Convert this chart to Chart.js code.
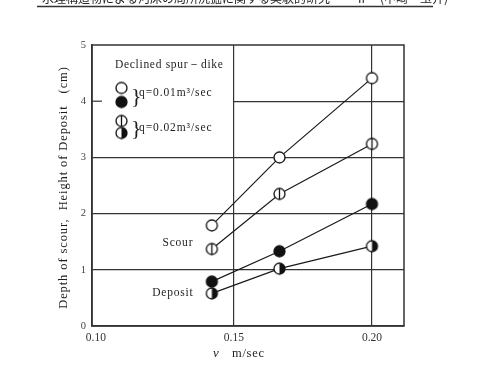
<!DOCTYPE html>
<html>
<head>
<meta charset="utf-8">
<script src="https://cdn.jsdelivr.net/npm/chart.js@4"></script>
<style>
  body { margin: 0; background: #fff; }
  canvas { display: block; }
</style>
</head>
<body>
<canvas id="chart" width="477" height="367"></canvas>
<script>
// ---------- Data ----------
const velocity = [0.142, 0.1665, 0.200];            // v  m/sec
const scourQ1 = [1.79, 3.00, 4.41];                // q=0.01, scour (open)
const scourQ2 = [1.37, 2.35, 3.24];                // q=0.02, scour (barred)
const depositQ1 = [0.79, 1.33, 2.17];              // q=0.01, deposit (filled)
const depositQ2 = [0.58, 1.02, 1.42];              // q=0.02, deposit (half)
const xTicks = [0.10, 0.15, 0.20];
const yTicks = [0, 1, 2, 3, 4, 5];

const SERIF = "'Liberation Serif', 'DejaVu Serif', serif";
const INK = "#1e1e1e";

// ---------- Symbols ----------
function makeSym(kind) {
  const c = document.createElement("canvas");
  c.width = 15; c.height = 15;
  const g = c.getContext("2d");
  const cx = 7.5, cy = 7.5, r = 5.5;
  g.beginPath(); g.arc(cx, cy, r, 0, Math.PI * 2);
  g.fillStyle = kind === "filled" ? "#111" : "#fff";
  g.fill();
  if (kind === "half") {
    g.beginPath(); g.moveTo(cx, cy - r);
    g.arc(cx, cy, r, -Math.PI / 2, Math.PI / 2);
    g.closePath(); g.fillStyle = "#111"; g.fill();
  }
  g.lineWidth = 1.3; g.strokeStyle = "#111";
  g.beginPath(); g.arc(cx, cy, r, 0, Math.PI * 2); g.stroke();
  if (kind === "bar") {
    g.beginPath(); g.moveTo(cx, cy - r); g.lineTo(cx, cy + r); g.stroke();
  }
  return c;
}
const SYM = {
  open: makeSym("open"),
  filled: makeSym("filled"),
  bar: makeSym("bar"),
  half: makeSym("half"),
};

function series(vals, sym) {
  return {
    data: vals.map((v, i) => ({ x: velocity[i], y: v })),
    borderColor: "#1a1a1a",
    borderWidth: 1.2,
    pointStyle: sym,
    pointRadius: 6,
    fill: false,
    tension: 0,
  };
}

// ---------- Decorations ----------
const decor = {
  id: "decor",
  beforeDatasetsDraw(chart) {
    const { ctx, chartArea: a, scales: { x, y } } = chart;
    ctx.save();
    // legend box (white area, upper-left cell)
    const bx = x.getPixelForValue(0.15), by = y.getPixelForValue(3);
    ctx.fillStyle = "#fff";
    ctx.fillRect(a.left + 1, a.top + 1, bx - a.left - 2, by - a.top - 2);
    // small inner tick at y=4
    const y4 = y.getPixelForValue(4);
    ctx.strokeStyle = "#333"; ctx.lineWidth = 1.2;
    ctx.beginPath(); ctx.moveTo(a.left, y4); ctx.lineTo(a.left + 10, y4); ctx.stroke();
    // frame
    ctx.strokeStyle = "#333"; ctx.lineWidth = 1.5;
    ctx.strokeRect(a.left, a.top, a.right - a.left, a.bottom - a.top);

    // legend contents
    ctx.fillStyle = INK;
    ctx.textBaseline = "alphabetic";
    ctx.textAlign = "left";
    ctx.font = "11.5px " + SERIF;
    ctx.letterSpacing = "0.7px";
    ctx.fillText("Declined spur\uFF0Ddike", a.left + 23, a.top + 23);
    const sx = a.left + 29.5;
    const put = (s, yy) => ctx.drawImage(s, sx - 7.5, yy - 7.5);
    put(SYM.open, a.top + 43);
    put(SYM.filled, a.top + 57);
    put(SYM.bar, a.top + 76);
    put(SYM.half, a.top + 88);
    ctx.font = "22px " + SERIF;
    ctx.letterSpacing = "0px";
    ctx.fillText("}", a.left + 39, a.top + 58);
    ctx.fillText("}", a.left + 39, a.top + 90);
    ctx.font = "11.5px " + SERIF;
    ctx.letterSpacing = "0.9px";
    ctx.fillText("q=0.01m\u00B3/sec", a.left + 47, a.top + 51);
    ctx.fillText("q=0.02m\u00B3/sec", a.left + 47, a.top + 86);

    // Scour / Deposit labels
    ctx.textAlign = "center";
    ctx.letterSpacing = "0.8px";
    ctx.fillText("Scour", x.getPixelForValue(0.1297), y.getPixelForValue(1.42));
    ctx.fillText("Deposit", x.getPixelForValue(0.1279), y.getPixelForValue(0.53));
    ctx.restore();
  },
  afterDraw(chart) {
    const { ctx, chartArea: a } = chart;
    ctx.save();
    ctx.fillStyle = INK;
    // y axis title
    ctx.translate(67, (a.top + a.bottom) / 2 + 2);
    ctx.rotate(-Math.PI / 2);
    ctx.textAlign = "center";
    ctx.font = "12.5px " + SERIF;
    ctx.letterSpacing = "0.9px";
    ctx.fillText("Depth of scour,  Height of Deposit   (cm)", 0, 0);
    ctx.restore();

    // x axis title
    ctx.save();
    ctx.fillStyle = INK;
    ctx.font = "italic 13px " + SERIF;
    ctx.fillText("v", 213, 357);
    ctx.font = "12.5px " + SERIF;
    ctx.letterSpacing = "0.7px";
    ctx.fillText("m/sec", 232, 357);
    ctx.restore();

    // running header (cut off at top of page)
    ctx.save();
    ctx.fillStyle = "#222";
    ctx.font = "12px 'Noto Sans CJK JP'";
    ctx.fillText("\u6C34\u7406\u69CB\u9020\u7269\u306B\u3088\u308B\u6CB3\u5E8A\u306E\u5C40\u6240\u6D17\u6398\u306B\u95A2\u3059\u308B\u5B9F\u9A13\u7684\u7814\u7A76", 42, 3);
    ctx.fillText("II", 358, 3);
    ctx.fillText("(\u4E2D\u5D0E\u30FB\u7389\u4E95)", 380, 3);
    ctx.strokeStyle = "#333"; ctx.lineWidth = 1.5;
    ctx.beginPath(); ctx.moveTo(37, 6.5); ctx.lineTo(433, 6.5); ctx.stroke();
    ctx.restore();
  },
};

// ---------- Chart ----------
new Chart(document.getElementById("chart"), {
  type: "line",
  data: {
    datasets: [
      series(scourQ1, SYM.open),
      series(scourQ2, SYM.bar),
      series(depositQ1, SYM.filled),
      series(depositQ2, SYM.half),
    ],
  },
  options: {
    responsive: false,
    animation: false,
    devicePixelRatio: 1,
    layout: { padding: { left: 0, right: 73, top: 45, bottom: 0 } },
    plugins: { legend: { display: false }, tooltip: { enabled: false } },
    scales: {
      x: {
        type: "linear",
        min: 0.0986,
        max: 0.2116,
        afterBuildTicks: (s) => { s.ticks = xTicks.map((v) => ({ value: v })); },
        afterFit: (s) => { s.height = 41; },
        ticks: {
          autoSkip: false,
          maxRotation: 0,
          padding: 5,
          color: "#333",
          font: { family: SERIF, size: 11.5 },
          callback: (v) => v.toFixed(2),
        },
        grid: {
          drawTicks: false,
          lineWidth: 1.2,
          color: (c) => (c.tick && c.tick.value > 0.12 ? "#333" : "rgba(0,0,0,0)"),
        },
        border: { display: true, color: "#333", width: 1.5 },
      },
      y: {
        min: 0,
        max: 5,
        afterBuildTicks: (s) => { s.ticks = yTicks.map((v) => ({ value: v })); },
        afterFit: (s) => { s.width = 92; },
        ticks: {
          padding: 6,
          color: "#444",
          font: { family: SERIF, size: 10.5 },
        },
        grid: {
          drawTicks: false,
          lineWidth: 1.2,
          color: (c) => (c.tick && c.tick.value > 0 && c.tick.value < 5 ? "#333" : "rgba(0,0,0,0)"),
        },
        border: { display: true, color: "#333", width: 1.5 },
      },
    },
  },
  plugins: [decor],
});
</script>
</body>
</html>
